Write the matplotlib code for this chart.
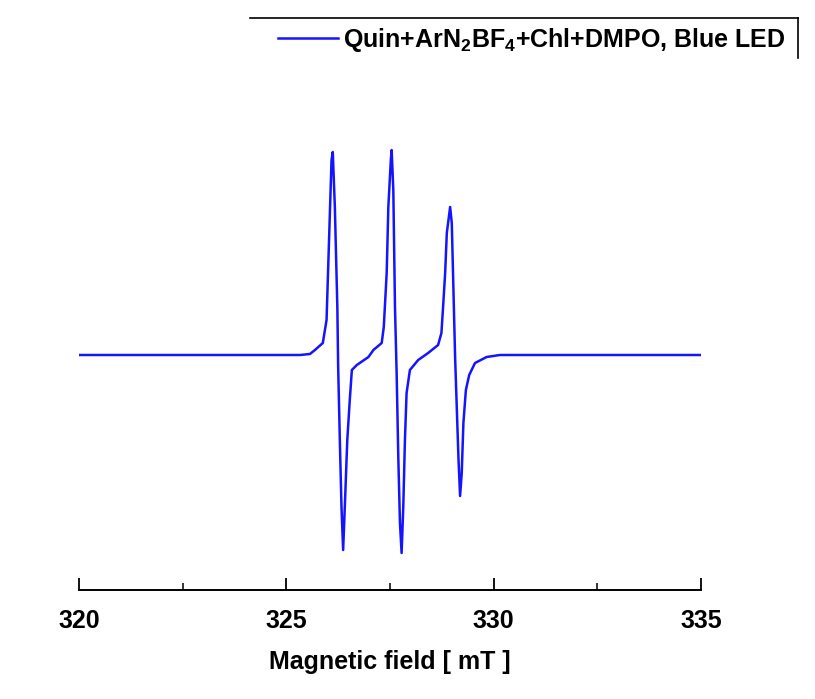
import matplotlib
matplotlib.use("Agg")
import matplotlib.pyplot as plt
from matplotlib.lines import Line2D
from matplotlib.ticker import MultipleLocator

# EPR spectrum (field in mT, intensity in arb. units)
field_mT = [320.00, 325.33, 325.57, 325.69, 325.88, 325.97, 326.03, 326.09, 326.12,
            326.17, 326.23, 326.25, 326.29, 326.33, 326.37, 326.41, 326.47, 326.53,
            326.58, 326.70, 326.98, 327.10, 327.30, 327.35, 327.42, 327.46, 327.52,
            327.54, 327.58, 327.62, 327.66, 327.70, 327.74, 327.78, 327.82, 327.86,
            327.90, 327.98, 328.18, 328.42, 328.66, 328.74, 328.78, 328.83, 328.87,
            328.95, 328.99, 329.03, 329.07, 329.11, 329.15, 329.19, 329.23, 329.27,
            329.33, 329.41, 329.55, 329.83, 330.15, 335.00]
intensity = [0, 0, 1, 5, 12, 35, 115, 195, 203,
             148, 48, -12, -85, -152, -195, -152, -85, -45,
             -15, -10, -2, 5, 12, 28, 82, 148, 195,
             205, 165, 48, -18, -102, -168, -198, -152, -85,
             -38, -15, -5, 2, 10, 22, 48, 82, 122,
             148, 132, 65, -2, -52, -102, -141, -118, -68,
             -35, -20, -8, -2, 0, 0]

xticks = [320, 325, 330, 335]
legend_label = r'Quin+ArN$_2$BF$_4$+Chl+DMPO, Blue LED'
xlabel = 'Magnetic field [ mT ]'

plt.rcParams['font.family'] = ['Liberation Sans', 'DejaVu Sans']
plt.rcParams['font.weight'] = 'bold'
plt.rcParams['mathtext.fontset'] = 'custom'
plt.rcParams['mathtext.rm'] = 'Liberation Sans:bold'
plt.rcParams['mathtext.it'] = 'Liberation Sans:bold'
plt.rcParams['mathtext.bf'] = 'Liberation Sans:bold'

fig = plt.figure(figsize=(8.15, 6.99), dpi=100)
ax = fig.add_axes([79/815, 109/699, 622/815, 460/699])

ax.plot(field_mT, intensity, color='#1414ff', lw=1.8, label=legend_label)

ax.set_xlim(320, 335)
ax.set_ylim(-235, 225)
ax.set_xticks(xticks)
ax.xaxis.set_minor_locator(MultipleLocator(2.5))
ax.tick_params(axis='x', which='major', direction='in', length=9, width=1.3,
               labelsize=18, pad=14)
ax.tick_params(axis='x', which='minor', direction='in', length=5, width=1.1)
ax.set_yticks([])
for s in ['left', 'right', 'top']:
    ax.spines[s].set_visible(False)
ax.spines['bottom'].set_linewidth(1.4)
ax.set_xlabel(xlabel, fontsize=18, fontweight='bold', labelpad=12)

leg = ax.legend(loc='center right', bbox_to_anchor=(785/815, 1 - 40/699),
                bbox_transform=fig.transFigure, frameon=False, fontsize=18,
                handlelength=2.4, handletextpad=0.2, borderpad=0, borderaxespad=0)

# partial frame around the legend (top and right edges)
fig.add_artist(Line2D([250/815, 798/815], [1 - 18/699, 1 - 18/699],
                      transform=fig.transFigure, color='black', lw=1.2))
fig.add_artist(Line2D([798/815, 798/815], [1 - 18/699, 1 - 58/699],
                      transform=fig.transFigure, color='black', lw=1.2))

fig.savefig('out.png', dpi=100)
